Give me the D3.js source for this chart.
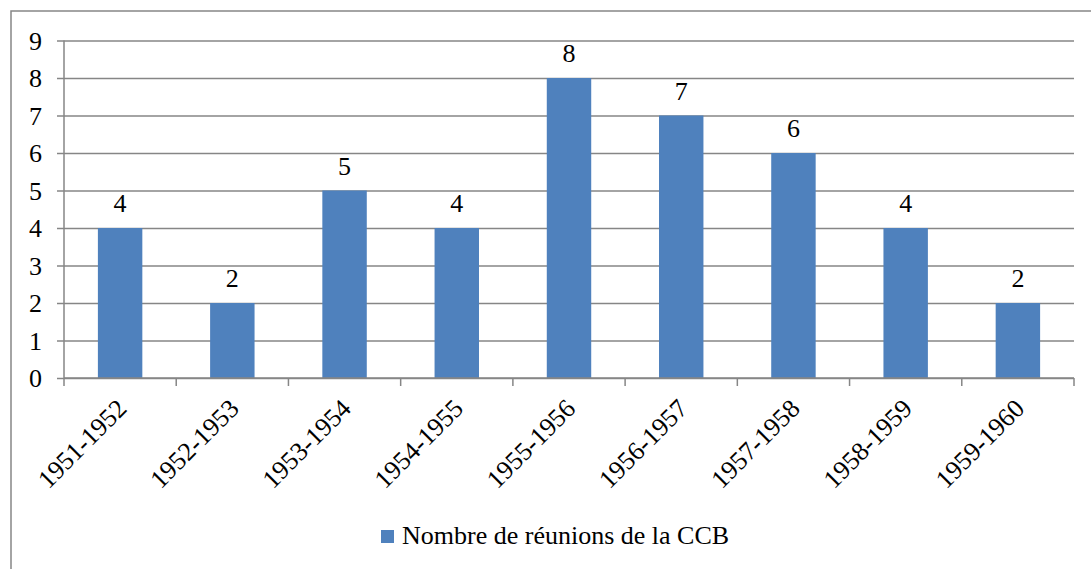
<!DOCTYPE html>
<html>
<head>
<meta charset="utf-8">
<script src="https://cdn.jsdelivr.net/npm/d3@7"></script>
<style>
  html, body { margin: 0; padding: 0; background: #fff; }
  svg { display: block; }
  text { font-family: "Liberation Serif", "Times New Roman", serif; fill: #000; }
</style>
</head>
<body>
<svg id="chart" width="1091" height="569"></svg>
<script>
// Number of CCB meetings per session
const categories = ["1951-1952", "1952-1953", "1953-1954", "1954-1955", "1955-1956",
                    "1956-1957", "1957-1958", "1958-1959", "1959-1960"];
const meetings = [4, 2, 5, 4, 8, 7, 6, 4, 2];
const yTicks = [0, 1, 2, 3, 4, 5, 6, 7, 8, 9];
const seriesName = "Nombre de réunions de la CCB";

const W = 1091, H = 569;
const plot = { left: 64, right: 1074, top: 40.5, bottom: 378 };
const gridColor = "#868686";
const barColor = "#4F81BD";
const fontSize = 26;

const svg = d3.select("#chart");

// Outer chart frame
svg.append("rect")
  .attr("x", 11).attr("y", 11)
  .attr("width", W + 20).attr("height", H + 20)
  .attr("fill", "none").attr("stroke", gridColor).attr("stroke-width", 1.5);

const x = d3.scaleBand()
  .domain(categories)
  .range([plot.left, plot.right])
  .paddingInner(0.604).paddingOuter(0.302);

const y = d3.scaleLinear()
  .domain([0, 9])
  .range([plot.bottom, plot.top]);

// Horizontal gridlines with small ticks to the left of the axis
const yAxis = d3.axisLeft(y)
  .tickValues(yTicks)
  .tickSize(plot.right - plot.left + 7)
  .tickFormat(d3.format("d"))
  .tickPadding(15);

const gy = svg.append("g")
  .attr("transform", `translate(${plot.right},0)`)
  .call(yAxis);
gy.select(".domain").remove();
gy.selectAll(".tick line").attr("stroke", gridColor).attr("stroke-width", 1.5);
gy.selectAll(".tick text")
  .attr("x", -(plot.right - plot.left) - 22)
  .attr("dy", "0.34em")
  .style("font-size", fontSize + "px")
  .style("font-family", "Liberation Serif, serif")
  .attr("fill", "#000");

// Vertical axis line
svg.append("line")
  .attr("x1", plot.left).attr("x2", plot.left)
  .attr("y1", plot.top).attr("y2", plot.bottom)
  .attr("stroke", gridColor).attr("stroke-width", 1.5);

// Bars
svg.append("g").selectAll("rect")
  .data(meetings)
  .join("rect")
  .attr("x", (d, i) => x(categories[i]))
  .attr("y", d => y(d))
  .attr("width", x.bandwidth())
  .attr("height", d => y(0) - y(d))
  .attr("fill", barColor);

// Value labels above bars
svg.append("g").selectAll("text")
  .data(meetings)
  .join("text")
  .attr("x", (d, i) => x(categories[i]) + x.bandwidth() / 2)
  .attr("y", d => y(d) - 16)
  .attr("text-anchor", "middle")
  .style("font-size", fontSize + "px")
  .text(d => d);

// Category axis line and boundary ticks
const step = x.step();
const boundaries = d3.range(categories.length + 1).map(i => plot.left + i * (plot.right - plot.left) / categories.length);
svg.append("line")
  .attr("x1", plot.left).attr("x2", plot.right)
  .attr("y1", plot.bottom).attr("y2", plot.bottom)
  .attr("stroke", gridColor).attr("stroke-width", 1.5);
svg.append("g").selectAll("line")
  .data(boundaries)
  .join("line")
  .attr("x1", d => d).attr("x2", d => d)
  .attr("y1", plot.bottom).attr("y2", plot.bottom + 8)
  .attr("stroke", gridColor).attr("stroke-width", 1.5);

// Rotated category labels
svg.append("g").selectAll("text")
  .data(categories)
  .join("text")
  .attr("text-anchor", "end")
  .attr("transform", d => `translate(${x(d) + x.bandwidth() / 2 + 8},${plot.bottom + 32}) rotate(-45)`)
  .style("font-size", fontSize + "px")
  .text(d => d);

// Legend
const legend = svg.append("g").attr("transform", "translate(381,530)");
legend.append("rect").attr("width", 13).attr("height", 13).attr("fill", barColor);
legend.append("text").attr("x", 21).attr("y", 14).style("font-size", fontSize + "px").text(seriesName);
</script>
</body>
</html>
